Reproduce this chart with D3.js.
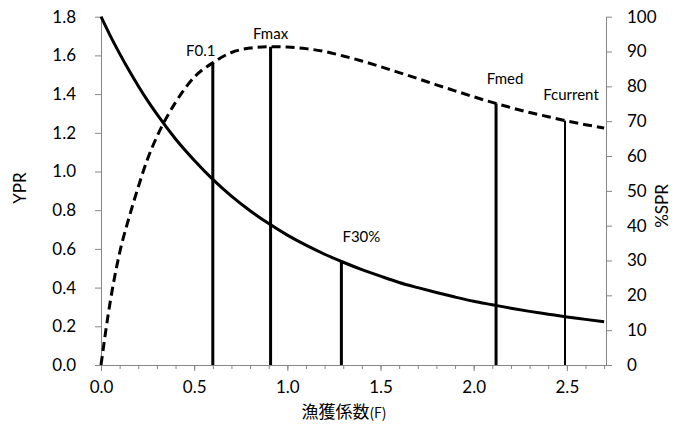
<!DOCTYPE html>
<html>
<head>
<meta charset="utf-8">
<script src="https://cdn.jsdelivr.net/npm/d3@7"></script>
<style>
  html, body { margin: 0; padding: 0; background: #fff; }
  svg { display: block; }
  .tick text { font-family: Lato, "Open Sans", sans-serif; font-size: 17px; fill: #000; }
  .domain, .tick line { stroke: #868686; stroke-width: 1; }
</style>
</head>
<body>
<svg id="chart" width="683" height="441"></svg>
<script>
// Fishing mortality grid for the curves
const fGrid = [0, 0.05, 0.1, 0.15, 0.2, 0.25, 0.3, 0.4, 0.5, 0.6, 0.7, 0.8, 0.9, 1.0,
               1.1, 1.2, 1.3, 1.4, 1.5, 1.6, 1.7, 1.8, 1.9, 2.0, 2.1, 2.2, 2.3, 2.4, 2.5, 2.6, 2.7];
// Yield per recruit (left axis)
const yprValues = [0, 0.33, 0.58, 0.76, 0.92, 1.065, 1.18, 1.357, 1.487, 1.562, 1.615, 1.638, 1.645, 1.643,
                   1.635, 1.620, 1.597, 1.571, 1.542, 1.511, 1.480, 1.448, 1.417, 1.386, 1.357, 1.330, 1.305, 1.283, 1.261, 1.242, 1.225];
// Spawning per recruit in % (right axis)
const sprValues = [100, 94.5, 89.4, 84.6, 80.1, 75.9, 72.0, 64.9, 58.8, 53.3, 48.5, 44.3, 40.6, 37.3,
                   34.4, 31.8, 29.5, 27.4, 25.5, 23.7, 22.2, 20.8, 19.5, 18.3, 17.3, 16.3, 15.4, 14.6, 13.8, 13.1, 12.4];

// Reference points: name, F, which curve it reaches, and the value there
const refNames  = ["F0.1", "Fmax", "F30%", "Fmed", "Fcurrent"];
const refF      = [0.60, 0.91, 1.29, 2.12, 2.49];
const refCurve  = ["ypr", "ypr", "spr", "ypr", "ypr"];
const refValues = [1.562, 1.645, 30, 1.352, 1.263];

const xTicks      = [0, 0.5, 1.0, 1.5, 2.0, 2.5];
const xMinorTicks = d3.range(0, 28).map(i => i / 10);
const yLeftTicks  = [0, 0.2, 0.4, 0.6, 0.8, 1.0, 1.2, 1.4, 1.6, 1.8];
const yRightTicks = [0, 10, 20, 30, 40, 50, 60, 70, 80, 90, 100];

const svg = d3.select("#chart");
const plotLeft = 101, plotRight = 606, plotTop = 16.7, plotBottom = 365;

const x  = d3.scaleLinear().domain([0, 2.71]).range([plotLeft, plotRight]);
const yL = d3.scaleLinear().domain([0, 1.8]).range([plotBottom, plotTop]);
const yR = d3.scaleLinear().domain([0, 100]).range([plotBottom, plotTop]);

// Axes
svg.append("g").attr("transform", `translate(0,${plotBottom})`)
  .call(d3.axisBottom(x).tickValues(xMinorTicks).tickSize(4).tickSizeOuter(0).tickFormat(""))
  .call(g => g.select(".domain").remove());
svg.append("g").attr("transform", `translate(0,${plotBottom})`)
  .call(d3.axisBottom(x).tickValues(xTicks).tickSize(6).tickSizeOuter(0).tickPadding(10)
        .tickFormat(d3.format(".1f")))
  .call(g => g.select(".domain").attr("d", `M${plotLeft},0.5H${plotRight}`));

svg.append("g").attr("transform", `translate(${plotLeft},0)`)
  .call(d3.axisLeft(yL).tickValues(yLeftTicks).tickSize(6).tickSizeOuter(0).tickPadding(19)
        .tickFormat(d3.format(".1f")));

svg.append("g").attr("transform", `translate(${plotRight},0)`)
  .call(d3.axisRight(yR).tickValues(yRightTicks).tickSize(6).tickSizeOuter(0).tickPadding(15)
        .tickFormat(d3.format("d")));

// Curves
const pts = fGrid.map((f, i) => ({ f, ypr: yprValues[i], spr: sprValues[i] }));

svg.append("path").datum(pts)
  .attr("fill", "none").attr("stroke", "#000").attr("stroke-width", 3)
  .attr("d", d3.line().x(d => x(d.f)).y(d => yR(d.spr)).curve(d3.curveMonotoneX));

svg.append("path").datum(pts)
  .attr("fill", "none").attr("stroke", "#000").attr("stroke-width", 3)
  .attr("stroke-dasharray", "9,5")
  .attr("d", d3.line().x(d => x(d.f)).y(d => yL(d.ypr)).curve(d3.curveMonotoneX));

// Reference lines and their labels
const refs = refNames.map((name, i) => ({
  name, f: refF[i],
  yTop: refCurve[i] === "ypr" ? yL(refValues[i]) : yR(refValues[i])
}));
const refWidth = { "Fcurrent": 2 };
const labelPos = {
  "F0.1":     { dx: -12, y: 56,  anchor: "middle" },
  "Fmax":     { dx: 0,   y: 39,  anchor: "middle" },
  "F30%":     { dx: 20,  y: 242, anchor: "middle" },
  "Fmed":     { dx: 9,   y: 84,  anchor: "middle" },
  "Fcurrent": { dx: 6,   y: 100, anchor: "middle" }
};

svg.append("g").selectAll("line").data(refs).join("line")
  .attr("x1", d => x(d.f)).attr("x2", d => x(d.f))
  .attr("y1", plotBottom).attr("y2", d => d.yTop)
  .attr("stroke", "#000").attr("stroke-width", d => refWidth[d.name] || 3);

svg.append("g").selectAll("text").data(refs).join("text")
  .attr("x", d => x(d.f) + labelPos[d.name].dx)
  .attr("y", d => labelPos[d.name].y)
  .attr("text-anchor", d => labelPos[d.name].anchor)
  .style("font-family", "Lato, sans-serif").style("font-size", "15px")
  .text(d => d.name);

// Axis titles
svg.append("text")
  .attr("transform", "translate(26,188) rotate(-90)")
  .attr("text-anchor", "middle")
  .style("font-family", "Lato, sans-serif").style("font-size", "17px")
  .text("YPR");

svg.append("text")
  .attr("transform", "translate(668,206) rotate(-90)")
  .attr("text-anchor", "middle")
  .style("font-family", "Lato, sans-serif").style("font-size", "17px")
  .text("%SPR");

const xTitle = svg.append("text")
  .attr("x", 344).attr("y", 418)
  .attr("text-anchor", "middle")
  .style("font-family", "'Noto Sans CJK JP', sans-serif").style("font-size", "17px");
xTitle.append("tspan").text("漁獲係数");
xTitle.append("tspan").style("font-size", "14px").text("(F)");
</script>
</body>
</html>
